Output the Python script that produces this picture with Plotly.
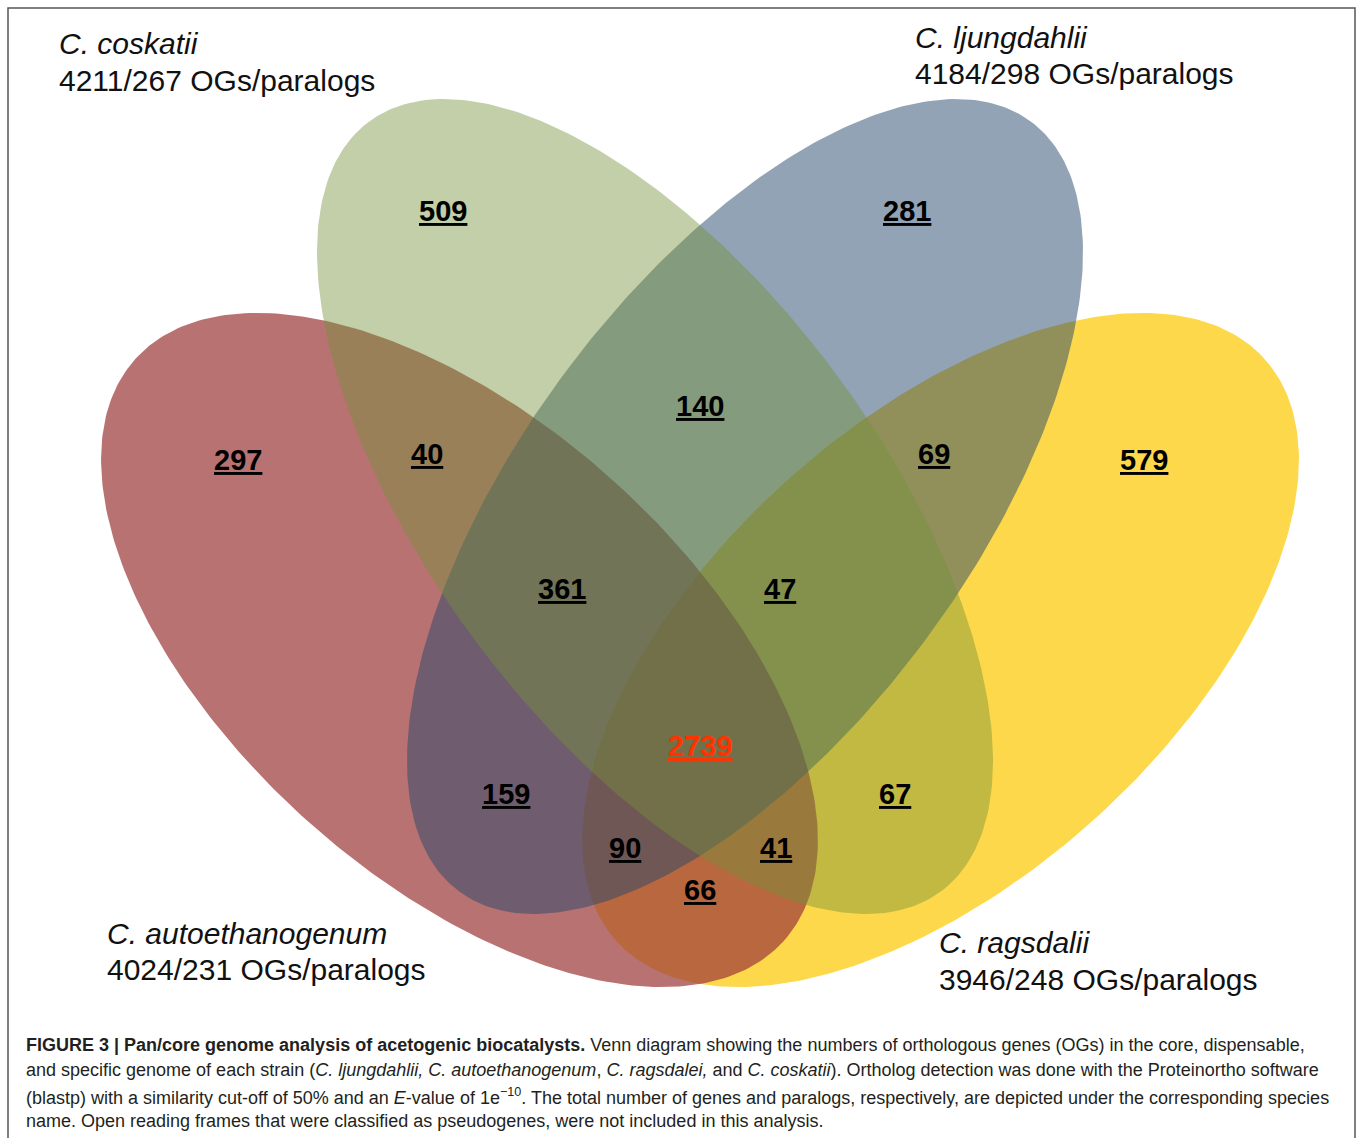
import numpy as np
import plotly.graph_objects as go

W, H = 1358, 1138

# ---------------- data ----------------
species = ["C. coskatii", "C. ljungdahlii", "C. autoethanogenum", "C. ragsdalii"]
totals = ["4211/267", "4184/298", "4024/231", "3946/248"]

region_sets = ["cos", "lju", "aut", "rag",
               "cos&lju", "aut&cos", "lju&rag",
               "aut&cos&lju", "cos&lju&rag", "aut&cos&lju&rag",
               "aut&lju", "cos&rag", "aut&lju&rag", "aut&cos&rag", "aut&rag"]
region_counts = [509, 281, 297, 579,
                 140, 40, 69,
                 361, 47, 2739,
                 159, 67, 90, 41, 66]

caption_lines = [
    "<b>FIGURE 3 | Pan/core genome analysis of acetogenic biocatalysts.</b> Venn diagram showing the numbers of orthologous genes (OGs) in the core, dispensable,",
    "and specific genome of each strain (<i>C. ljungdahlii, C. autoethanogenum</i>, <i>C. ragsdalei,</i> and <i>C. coskatii</i>). Ortholog detection was done with the Proteinortho software",
    "(blastp) with a similarity cut-off of 50% and an <i>E</i>-value of 1e<sup>\u221210</sup>. The total number of genes and paralogs, respectively, are depicted under the corresponding species",
    "name. Open reading frames that were classified as pseudogenes, were not included in this analysis.",
]

# ---------------- layout / style ----------------
# ellipses: (cx, cy, a, b, angle_deg, fill rgba) drawn bottom -> top
ellipses = {
    "rag": (940.5, 650.0, 435.6, 228.8, 138.1, "rgba(253,216,74,1)"),
    "aut": (459.5, 650.0, 435.6, 228.8, 41.9, "rgba(156,59,59,0.72)"),
    "lju": (745.0, 506.5, 479.5, 224.4, 126.62, "rgba(37,71,107,0.5)"),
    "cos": (655.0, 506.5, 479.5, 224.4, 53.38, "rgba(116,146,57,0.44)"),
}
label_pos = [(443, 211), (907, 211), (238, 460), (1144, 460),
             (700, 406), (427, 454), (934, 454),
             (562, 589), (780, 589), (700, 746),
             (506, 794), (895, 794), (625, 848), (776, 848), (700, 890)]
species_pos = [(57, 43, 80), (913, 37, 73), (105, 933, 969), (937, 942, 979)]

FONT = "Liberation Sans, Arial, sans-serif"
CAP_FONT = "Liberation Sans, Arial, sans-serif"

fig = go.Figure()

t = np.linspace(0, 2 * np.pi, 361)
for key in ["rag", "aut", "lju", "cos"]:
    cx, cy, a, b, ang, col = ellipses[key]
    th = np.deg2rad(ang)
    xs = cx + a * np.cos(t) * np.cos(th) - b * np.sin(t) * np.sin(th)
    ys = cy + a * np.cos(t) * np.sin(th) + b * np.sin(t) * np.cos(th)
    fig.add_trace(go.Scatter(x=xs, y=ys, mode="lines", fill="toself",
                             fillcolor=col, line=dict(width=0, color=col),
                             hoverinfo="skip", showlegend=False))

annotations = []
for (x, y), n in zip(label_pos, region_counts):
    color = "#ff3300" if n == 2739 else "#000000"
    annotations.append(dict(x=x, y=y, xref="x", yref="y", showarrow=False,
                            text=f"<b><u>{n}</u></b>", xanchor="center", yanchor="middle",
                            font=dict(family=FONT, size=29, color=color)))

for (x, y1, y2), name, tot in zip(species_pos, species, totals):
    annotations.append(dict(x=x, y=y1, xref="x", yref="y", showarrow=False,
                            text=f"<i>{name}</i>", xanchor="left", yanchor="middle",
                            font=dict(family=FONT, size=30, color="#111111")))
    annotations.append(dict(x=x, y=y2, xref="x", yref="y", showarrow=False,
                            text=f"{tot} OGs/paralogs", xanchor="left", yanchor="middle",
                            font=dict(family=FONT, size=30, color="#111111")))

cap_y = [1045, 1070, 1096, 1121]
for y, line in zip(cap_y, caption_lines):
    annotations.append(dict(x=24, y=y, xref="x", yref="y", showarrow=False,
                            text=line, xanchor="left", yanchor="middle",
                            font=dict(family=CAP_FONT, size=18, color="#231f20")))

fig.update_layout(
    width=W, height=H,
    margin=dict(l=0, r=0, t=0, b=0),
    paper_bgcolor="white", plot_bgcolor="white",
    xaxis=dict(range=[0, W], visible=False, fixedrange=True),
    yaxis=dict(range=[H, 0], visible=False, fixedrange=True),
    annotations=annotations,
    shapes=[dict(type="rect", xref="x", yref="y", x0=8, y0=8, x1=1355, y1=1150,
                 line=dict(color="#555555", width=1.5), fillcolor="rgba(0,0,0,0)")],
)

fig.write_html("out.html", config={"displayModeBar": False},
               post_script="document.body.style.margin='0';document.body.style.overflow='hidden';")
